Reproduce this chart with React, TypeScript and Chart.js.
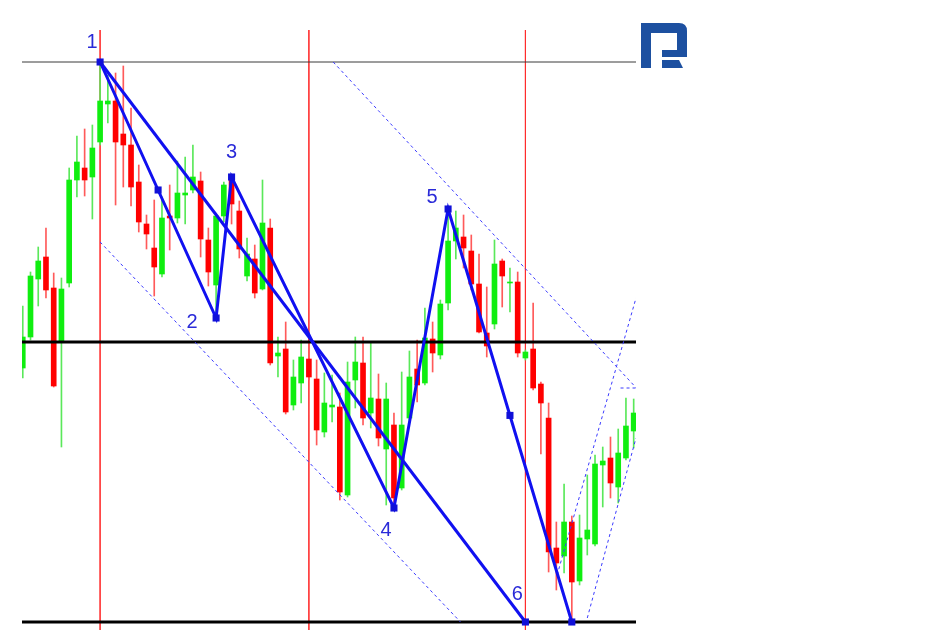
import React, { useEffect, useRef } from "react";
import { Chart, registerables } from "chart.js";

Chart.register(...registerables);

// ---- candle data (index = bar number) ----
const opens = [1.12470, 1.12625, 1.12915, 1.13025, 1.12870, 1.12605, 1.12895, 1.13410, 1.13470, 1.13425,
  1.13600, 1.13790, 1.13805, 1.13640, 1.13585, 1.13400, 1.13190, 1.13070, 1.12940, 1.13230,
  1.13220, 1.13335, 1.13360, 1.13405, 1.13110, 1.12885, 1.13230, 1.13410, 1.13255, 1.12930,
  1.13015, 1.12865, 1.13170, 1.12530, 1.12565, 1.12285, 1.12395, 1.12515, 1.12415, 1.12150,
  1.12275, 1.12275, 1.11835, 1.12410, 1.12495, 1.12245, 1.12315, 1.12065, 1.12185, 1.11870,
  1.12220, 1.12465, 1.12395, 1.12615, 1.12535, 1.12795, 1.13105, 1.13125, 1.13055, 1.12890,
  1.12645, 1.12690, 1.13005, 1.12895, 1.12900, 1.12520, 1.12565, 1.12390, 1.12220, 1.11570,
  1.11530, 1.11700, 1.11405, 1.11615, 1.11590, 1.11985, 1.12020, 1.11875, 1.12020, 1.12155];

const highs = [1.12780, 1.12950, 1.13075, 1.13170, 1.12945, 1.12920, 1.13470, 1.13630, 1.13665, 1.13685,
  1.14000, 1.13935, 1.13945, 1.13980, 1.13770, 1.13485, 1.13235, 1.13310, 1.13325, 1.13385,
  1.13505, 1.13525, 1.13585, 1.13450, 1.13170, 1.13235, 1.13400, 1.13425, 1.13305, 1.13120,
  1.13085, 1.13410, 1.13215, 1.12625, 1.12700, 1.12510, 1.12610, 1.12600, 1.12510, 1.12445,
  1.12435, 1.12345, 1.12500, 1.12625, 1.12625, 1.12595, 1.12440, 1.12395, 1.12245, 1.12450,
  1.12555, 1.12610, 1.12770, 1.12700, 1.12810, 1.13265, 1.13255, 1.13235, 1.13135, 1.13040,
  1.12875, 1.13110, 1.13015, 1.12970, 1.12950, 1.12560, 1.12795, 1.12400, 1.12295, 1.11700,
  1.11890, 1.11730, 1.11735, 1.11935, 1.12035, 1.12075, 1.12125, 1.12165, 1.12320, 1.12315];

const lows = [1.12420, 1.12610, 1.12780, 1.12820, 1.12375, 1.12075, 1.12875, 1.13325, 1.13330, 1.13215,
  1.13585, 1.13695, 1.13285, 1.13375, 1.13280, 1.13150, 1.13065, 1.12830, 1.12925, 1.13060,
  1.13195, 1.13190, 1.13345, 1.13025, 1.12880, 1.12720, 1.13200, 1.13190, 1.13020, 1.12905,
  1.12820, 1.12860, 1.12485, 1.12425, 1.12240, 1.12260, 1.12295, 1.12410, 1.12085, 1.12125,
  1.12200, 1.11810, 1.11825, 1.12270, 1.12185, 1.12170, 1.12080, 1.11785, 1.11770, 1.11860,
  1.12210, 1.12300, 1.12385, 1.12450, 1.12515, 1.12760, 1.13015, 1.12970, 1.12860, 1.12645,
  1.12525, 1.12665, 1.12775, 1.12750, 1.12525, 1.12510, 1.12360, 1.12040, 1.11450, 1.11360,
  1.11445, 1.11200, 1.11385, 1.11535, 1.11580, 1.11775, 1.11820, 1.11795, 1.12010, 1.12070];

const closes = [1.12625, 1.12930, 1.13005, 1.12860, 1.12380, 1.12865, 1.13410, 1.13500, 1.13410, 1.13570,
  1.13805, 1.13805, 1.13600, 1.13585, 1.13375, 1.13200, 1.13140, 1.12975, 1.13220, 1.13220,
  1.13345, 1.13345, 1.13425, 1.13115, 1.12950, 1.13230, 1.13385, 1.13290, 1.13065, 1.13040,
  1.12845, 1.13195, 1.12495, 1.12545, 1.12250, 1.12425, 1.12525, 1.12425, 1.12160, 1.12295,
  1.12285, 1.11850, 1.12400, 1.12500, 1.12220, 1.12320, 1.12120, 1.12315, 1.11820, 1.12185,
  1.12425, 1.12385, 1.12620, 1.12545, 1.12790, 1.13105, 1.13170, 1.13070, 1.12890, 1.12650,
  1.12580, 1.12990, 1.12930, 1.12900, 1.12545, 1.12550, 1.12370, 1.12295, 1.11550, 1.11495,
  1.11700, 1.11400, 1.11620, 1.11660, 1.11990, 1.12005, 1.11895, 1.12045, 1.12180, 1.12245];

const barIndex = opens.map((_, i) => i);

// ---- analysis overlays ----
const levelPrices = [1.14, 1.126, 1.112];
const vlineIdx = [10, 37, 65];
const vlineTop = 1.1416;

const waveX = [10, 25, 27, 48, 55, 71];
const waveY = [1.14, 1.1272, 1.13425, 1.1177, 1.13265, 1.112];
const diagX = [10, 65];
const diagY = [1.14, 1.112];
const markerX = [10, 17.5, 25, 27, 48, 55, 63, 65, 71];
const markerY = [1.14, 1.1336, 1.1272, 1.13425, 1.1177, 1.13265, 1.12233, 1.112, 1.112];

const labelText = ["1", "2", "3", "4", "5", "6"];
const labelX = [10, 25, 27, 48, 55, 65];
const labelY = [1.14, 1.1272, 1.13425, 1.1177, 1.13265, 1.112];

const chanUpperX = [40.14, 79.3];
const chanUpperY = [1.14, 1.12372];
const chanTickX = [77.3, 79.3];
const chanTickY = [1.1237, 1.1237];
const chanLowerX = [10, 56.6];
const chanLowerY = [1.131, 1.112];
const riseAX = [69.1, 79.3];
const riseAY = [1.11435, 1.1282];
const riseBX = [73.0, 79.3];
const riseBY = [1.1122, 1.1212];

const xMin = -0.1, xMax = 79.3;
const yMin = 1.1116, yMax = 1.1431;

const pts = (xs: number[], ys: number[]) => xs.map((x, i) => ({ x, y: ys[i] }));

const WAVE_BLUE = "#1010f0";
const DASH_BLUE = "#3a3aff";

function lineDs(data: any[], color: string, width: number, order: number, dash: number[] = []) {
  return {
    type: "line",
    data,
    borderColor: color,
    borderWidth: width,
    borderDash: dash,
    pointRadius: 0,
    tension: 0,
    fill: false,
    order,
  };
}

// labels 1..6 and logo
const labelDX = [-8, -24, 0, -8, -16, -8];
const labelDY = [-20, 4, -25, 22, -12, -28];

const overlayPlugin = {
  id: "overlay",
  afterDatasetsDraw(chart: any) {
    const { ctx, scales } = chart;
    const xs = scales.x, ys = scales.y;
    ctx.save();
    ctx.font = '20px "Liberation Sans", Arial, sans-serif';
    ctx.fillStyle = "#2a2ad8";
    ctx.textAlign = "center";
    ctx.textBaseline = "middle";
    labelText.forEach((t, k) => {
      const px = xs.getPixelForValue(labelX[k]) + labelDX[k];
      const py = ys.getPixelForValue(labelY[k]) + labelDY[k];
      ctx.fillText(t, px, py);
    });
    // logo
    ctx.fillStyle = "#1d50a0";
    ctx.fillRect(641, 23, 10, 45);
    ctx.beginPath();
    ctx.moveTo(651, 23);
    ctx.lineTo(679, 23);
    ctx.quadraticCurveTo(687, 23, 687, 31);
    ctx.lineTo(687, 57);
    ctx.lineTo(662, 57);
    ctx.lineTo(662, 50);
    ctx.lineTo(677, 50);
    ctx.lineTo(677, 33);
    ctx.lineTo(651, 33);
    ctx.closePath();
    ctx.fill();
    ctx.beginPath();
    ctx.moveTo(662, 60);
    ctx.lineTo(679, 60);
    ctx.lineTo(683, 68);
    ctx.lineTo(662, 68);
    ctx.closePath();
    ctx.fill();
    ctx.restore();
  },
};

export default function App() {
  const ref = useRef<HTMLCanvasElement>(null);
  useEffect(() => {
    if (!ref.current) return;
    const isUp = barIndex.map((i) => closes[i] >= opens[i]);
    const bodyColors = isUp.map((u) => (u ? "#10ee10" : "#ff0000"));
    const wickColors = isUp.map((u) => (u ? "#5ae85a" : "#ff5a5a"));

    const datasets: any[] = [];
    // vertical red lines (beneath candles)
    vlineIdx.forEach((v) => {
      datasets.push(lineDs([{ x: v, y: vlineTop }, { x: v, y: yMin }], "rgba(255,40,40,0.8)", 1, 20));
    });
    datasets.push({
      type: "bar",
      data: barIndex.map((i) => ({ x: i, y: [lows[i], highs[i]] })),
      backgroundColor: wickColors,
      barThickness: 1,
      grouped: false,
      borderWidth: 0,
      order: 11,
    });
    datasets.push({
      type: "bar",
      data: barIndex.map((i) => ({ x: i, y: [opens[i], closes[i]] })),
      backgroundColor: bodyColors,
      barThickness: 5,
      minBarLength: 1,
      grouped: false,
      borderWidth: 0,
      order: 10,
    });
    // horizontal levels
    datasets.push(lineDs(pts([xMin, xMax], [levelPrices[0], levelPrices[0]]), "#3a3a3a", 1, 5));
    datasets.push(lineDs(pts([xMin, xMax], [levelPrices[1], levelPrices[1]]), "#000000", 3, 5));
    datasets.push(lineDs(pts([xMin, xMax], [levelPrices[2], levelPrices[2]]), "#000000", 3, 5));
    // dashed channels
    datasets.push(lineDs(pts(chanUpperX, chanUpperY), DASH_BLUE, 1, 4, [3, 3]));
    datasets.push(lineDs(pts(chanTickX, chanTickY), DASH_BLUE, 1, 4, [3, 3]));
    datasets.push(lineDs(pts(chanLowerX, chanLowerY), DASH_BLUE, 1, 4, [3, 3]));
    datasets.push(lineDs(pts(riseAX, riseAY), DASH_BLUE, 1, 4, [3, 3]));
    datasets.push(lineDs(pts(riseBX, riseBY), DASH_BLUE, 1, 4, [3, 3]));
    // wave lines
    datasets.push(lineDs(pts(diagX, diagY), WAVE_BLUE, 3, 2));
    datasets.push(lineDs(pts(waveX, waveY), WAVE_BLUE, 3, 2));
    // markers
    datasets.push({
      type: "line",
      data: pts(markerX, markerY),
      showLine: false,
      pointStyle: "rect",
      pointRadius: 5,
      pointBackgroundColor: "#1010d8",
      pointBorderColor: "#1010d8",
      pointBorderWidth: 0,
      order: 1,
    });

    const chart = new Chart(ref.current, {
      type: "bar",
      data: { datasets },
      options: {
        animation: false,
        responsive: false,
        devicePixelRatio: 1,
        layout: { autoPadding: false, padding: { left: 22, right: 290, top: 0, bottom: 0 } },
        plugins: { legend: { display: false }, tooltip: { enabled: false } },
        events: [],
        scales: {
          x: { type: "linear", min: xMin, max: xMax, offset: false, display: false },
          y: { type: "linear", min: yMin, max: yMax, display: false },
        },
      } as any,
      plugins: [overlayPlugin],
    } as any);
    return () => chart.destroy();
  }, []);

  return (
    <div style={{ position: "fixed", left: 0, top: 0, width: 926, height: 630, background: "#fff" }}>
      <canvas ref={ref} width={926} height={630} style={{ width: 926, height: 630, display: "block" }} />
    </div>
  );
}
